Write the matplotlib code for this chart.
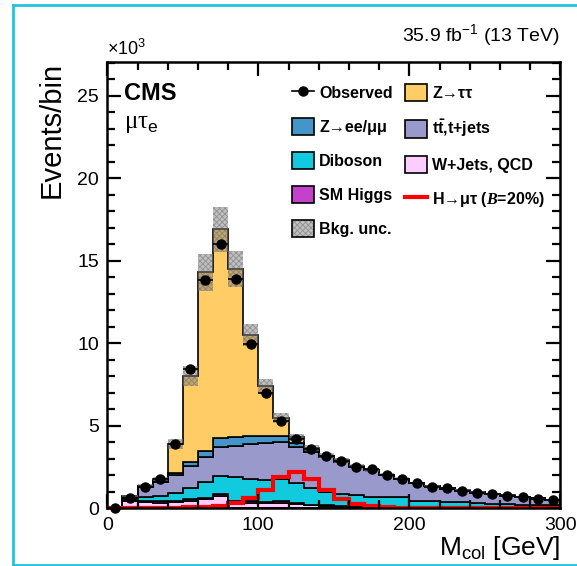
import numpy as np
import matplotlib
matplotlib.use("Agg")
from matplotlib import pyplot as plt
from matplotlib.lines import Line2D
from matplotlib.patches import Patch
from matplotlib.legend_handler import HandlerTuple
from matplotlib.ticker import MultipleLocator

plt.rcParams['font.family'] = ['Liberation Sans', 'DejaVu Sans']
plt.rcParams['mathtext.fontset'] = 'custom'
plt.rcParams['mathtext.rm'] = 'Liberation Sans'
plt.rcParams['mathtext.it'] = 'Liberation Sans:italic'
plt.rcParams['mathtext.bf'] = 'Liberation Sans:bold'
plt.rcParams['mathtext.cal'] = 'Liberation Serif:italic:bold'
plt.rcParams['hatch.linewidth'] = 0.6

# bin edges in GeV, 10 GeV bins from 0 to 300
edges = np.arange(0, 301, 10)
centers = edges[:-1] + 5

# values in units of 10^3 events
observed = [0, 0.60, 1.27, 1.78, 3.88, 8.46, 13.84, 16.0, 13.88, 9.96,
            7.0, 5.27, 4.18, 3.60, 3.17, 2.88, 2.52, 2.36, 2.04, 1.79,
            1.51, 1.31, 1.21, 1.05, 0.95, 0.87, 0.75, 0.67, 0.58, 0.50]
wjets = [0, 0.45, 0.38, 0.35, 0.38, 0.45, 0.55, 0.75, 0.38, 0.35,
         0.32, 0.35, 0.28, 0.18, 0.14, 0.12, 0.10, 0.10, 0.09, 0.08,
         0.07, 0.07, 0.06, 0.05, 0.05, 0.04, 0.04, 0.03, 0.03, 0.03]
smhiggs = [0, 0.05, 0.05, 0.07, 0.07, 0.10, 0.10, 0.09, 0.07, 0.07,
           0.08, 0.08, 0.07, 0.05, 0.04, 0.03, 0.03, 0.02, 0.02, 0.02,
           0.02, 0.01, 0.01, 0.01, 0.01, 0.01, 0.01, 0.01, 0.01, 0.00]
diboson = [0, 0.12, 0.24, 0.34, 0.50, 0.66, 0.93, 1.14, 1.43, 1.35,
           1.32, 1.32, 1.16, 0.98, 0.82, 0.70, 0.65, 0.58, 0.56, 0.57,
           0.37, 0.36, 0.33, 0.30, 0.24, 0.22, 0.19, 0.18, 0.15, 0.14]
ttbar = [0, 0.06, 0.63, 0.86, 1.07, 1.37, 1.55, 1.76, 1.90, 2.13,
         2.22, 2.25, 2.23, 2.22, 2.10, 1.97, 1.72, 1.60, 1.33, 1.09,
         1.06, 0.89, 0.80, 0.70, 0.65, 0.59, 0.52, 0.46, 0.40, 0.34]
zll = [0, 0.02, 0.03, 0.06, 0.10, 0.21, 0.36, 0.50, 0.52, 0.50,
       0.46, 0.40, 0.21, 0.12, 0.05, 0.05, 0.03, 0.03, 0.02, 0.02,
       0.01, 0.01, 0.01, 0.01, 0.01, 0.01, 0.01, 0.01, 0.01, 0.01]
ztautau = [0, 0.02, 0.05, 0.10, 1.78, 5.21, 10.81, 12.66, 10.20, 6.10,
           3.00, 1.10, 0.35, 0.10, 0.05, 0.03, 0.02, 0.02, 0.02, 0.01,
           0.01, 0.01, 0.01, 0.01, 0.01, 0.01, 0.01, 0.01, 0.0, 0.0]
bkg_unc = [0, 0.06, 0.10, 0.12, 0.30, 0.60, 1.10, 1.35, 1.07, 0.68,
           0.45, 0.30, 0.22, 0.18, 0.16, 0.14, 0.13, 0.12, 0.10, 0.09,
           0.08, 0.07, 0.07, 0.06, 0.06, 0.05, 0.05, 0.05, 0.04, 0.04]
signal = [0, 0.01, 0.01, 0.02, 0.03, 0.05, 0.07, 0.15, 0.32, 0.62,
          1.10, 1.87, 2.18, 1.76, 1.08, 0.57, 0.26, 0.12, 0.06, 0.04,
          0.03, 0.03, 0.02, 0.02, 0.02, 0.02, 0.01, 0.01, 0.01, 0.01]

stack = [wjets, smhiggs, diboson, ttbar, zll, ztautau]
colors = ['#ffccff', '#c341cb', '#12cadd', '#9999cc', '#4496c8', '#ffcc66']

fig = plt.figure(figsize=(5.77, 5.66), dpi=100)
ax = fig.add_axes([107.3 / 577, (566 - 508.3) / 566,
                   (560.3 - 107.3) / 577, (508.3 - 61.7) / 566])

# stacked backgrounds
bottom = np.zeros(len(centers))
for vals, c in zip(stack, colors):
    top = bottom + np.array(vals)
    ax.stairs(top, edges, baseline=bottom, fill=True, facecolor=c,
              edgecolor='black', linewidth=1.2)
    bottom = top
total = bottom

# background uncertainty
unc = np.array(bkg_unc)
ax.stairs(total + unc, edges, baseline=total - unc, fill=True,
          facecolor=(0.5, 0.5, 0.5, 0.5), edgecolor=(0.35, 0.35, 0.35, 0.45),
          hatch='xxxxxx', linewidth=0)

# signal
ax.stairs(signal, edges, color='#ff0000', linewidth=3)

# data
obs = np.array(observed)
ax.errorbar(centers, obs, xerr=5, yerr=np.sqrt(obs * 1000) / 1000,
            fmt='o', color='black', markersize=6.5, elinewidth=1.2,
            capsize=0, zorder=5, clip_on=False)

ax.set_xlim(0, 300)
ax.set_ylim(0, 27.07)
ax.xaxis.set_major_locator(MultipleLocator(100))
ax.xaxis.set_minor_locator(MultipleLocator(20))
ax.yaxis.set_major_locator(MultipleLocator(5))
ax.yaxis.set_minor_locator(MultipleLocator(1))
ax.tick_params(which='both', direction='in', top=True, right=True,
               width=1.6, labelsize=14)
ax.tick_params(which='major', length=10, pad=6)
ax.tick_params(which='minor', length=5.5)
for s in ax.spines.values():
    s.set_linewidth(1.8)

ax.set_ylabel('Events/bin', fontsize=21, loc='top', labelpad=8)
ax.set_xlabel(r'M$_{\mathrm{col}}$ [GeV]', fontsize=19, loc='right', labelpad=0)

ax.text(0.0, 1.005, r'$\times$10$^{3}$', transform=ax.transAxes,
        fontsize=13, ha='left', va='bottom')
ax.text(1.0, 1.03, r'35.9 fb$^{-1}$ (13 TeV)', transform=ax.transAxes,
        fontsize=14, ha='right', va='bottom')
ax.text(0.037, 0.955, 'CMS', transform=ax.transAxes, fontsize=17,
        fontweight='bold', ha='left', va='top')
ax.text(0.037, 0.885, r'μτ$_{\mathrm{e}}$', transform=ax.transAxes,
        fontsize=18, ha='left', va='top', family=['Liberation Serif', 'DejaVu Serif'])

# legend
edge_kw = dict(edgecolor='black', linewidth=1.2)
h_obs = Line2D([], [], color='black', marker='o', markersize=6.5, linewidth=1.2)
h_ztt = Patch(facecolor=colors[5], **edge_kw)
h_zll = Patch(facecolor=colors[4], **edge_kw)
h_tt = Patch(facecolor=colors[3], **edge_kw)
h_vv = Patch(facecolor=colors[2], **edge_kw)
h_wj = Patch(facecolor=colors[0], **edge_kw)
h_smh = Patch(facecolor=colors[1], **edge_kw)
h_sig = Line2D([], [], color='#ff0000', linewidth=3)
h_unc = (Patch(facecolor=(0.5, 0.5, 0.5, 0.5), edgecolor=(0.35, 0.35, 0.35, 0.45),
               hatch='xxxxxx', linewidth=0),
         Patch(facecolor='none', **edge_kw))
handles = [h_obs, h_zll, h_vv, h_smh, h_unc, h_ztt, h_tt, h_wj, h_sig]
labels = ['Observed', 'Z→ee/μμ', 'Diboson', 'SM Higgs', 'Bkg. unc.',
          'Z→ττ', r'$\mathbf{t\bar{t}}$,t+jets', 'W+Jets, QCD',
          r'H→μτ ($\mathcal{B}$=20%)']
ax.legend(handles, labels, ncol=2, loc='upper left',
          bbox_to_anchor=(0.408, 0.951), frameon=False, borderpad=0,
          borderaxespad=0, handlelength=1.4, handleheight=1.3,
          handletextpad=0.3, columnspacing=0.75, labelspacing=1.04,
          prop={'weight': 'bold', 'size': 11.5},
          handler_map={tuple: HandlerTuple(ndivide=1)})

# cyan frame around the figure
frame = '#20c4dc'
fig.add_artist(Line2D([13 / 577, 13 / 577], [1 - 4.7 / 566, 1 - 565 / 566],
                      color=frame, linewidth=2, transform=fig.transFigure))
fig.add_artist(Line2D([13 / 577, 1.0], [1 - 4.7 / 566, 1 - 4.7 / 566],
                      color=frame, linewidth=2, transform=fig.transFigure))
fig.add_artist(Line2D([13 / 577, 1.0], [1 - 565 / 566, 1 - 565 / 566],
                      color=frame, linewidth=2, transform=fig.transFigure))

fig.savefig('out.png', dpi=100)
